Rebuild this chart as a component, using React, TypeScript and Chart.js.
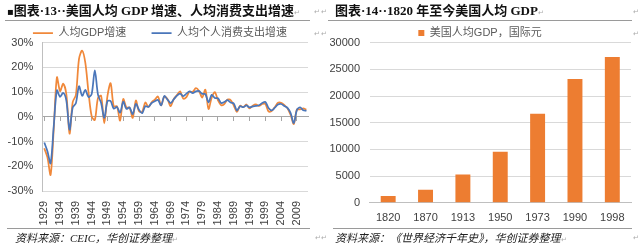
import React, { useEffect, useRef } from 'react';
import { Chart, registerables } from 'chart.js';

Chart.register(...registerables);

// ---------- Left chart data (per-capita nominal growth, %) ----------
const years = [
  '1929', '1930', '1931', '1932', '1933', '1934', '1935', '1936', '1937', '1938',
  '1939', '1940', '1941', '1942', '1943', '1944', '1945', '1946', '1947', '1948',
  '1949', '1950', '1951', '1952', '1953', '1954', '1955', '1956', '1957', '1958',
  '1959', '1960', '1961', '1962', '1963', '1964', '1965', '1966', '1967', '1968',
  '1969', '1970', '1971', '1972', '1973', '1974', '1975', '1976', '1977', '1978',
  '1979', '1980', '1981', '1982', '1983', '1984', '1985', '1986', '1987', '1988',
  '1989', '1990', '1991', '1992', '1993', '1994', '1995', '1996', '1997', '1998',
  '1999', '2000', '2001', '2002', '2003', '2004', '2005', '2006', '2007', '2008',
  '2009', '2010', '2011', '2012',
];

const gdpGrowth = [
  -12.7, -16.4, -23.5, -4.8, 16.0, 10.4, 13.4, 9.0, -6.8, 6.0,
  8.8, 23.5, 26.8, 21.8, 10.0, 0.3, -1.3, 7.6, 8.5, -2.6,
  8.4, 13.6, 4.2, 4.3, -1.5, 7.2, 3.8, 3.7, -0.4, 6.6,
  2.2, 2.1, 5.8, 4.0, 5.9, 7.0, 8.2, 4.6, 8.2, 7.2,
  4.3, 7.2, 8.8, 10.3, 7.4, 8.0, 10.2, 10.1, 11.6, 10.5,
  7.8, 11.0, 3.2, 7.8, 10.0, 6.7, 4.7, 5.2, 7.0, 6.8,
  4.6, 2.0, 4.5, 3.9, 5.0, 3.4, 4.5, 5.0, 4.4, 5.2,
  5.2, 2.2, 2.4, 3.9, 5.7, 5.7, 4.8, 3.5, 0.8, -2.9,
  3.0, 3.0, 3.4, 2.9,
];

const pceGrowth = [
  -10.4, -13.9, -18.8, -3.7, 10.7, 8.1, 9.7, 6.5, -5.2, 3.8,
  5.5, 12.4, 8.5, 10.9, 8.0, 9.2, 18.8, 9.0, 5.6, -0.4,
  6.3, 6.4, 3.3, 4.0, 1.7, 6.1, 3.2, 3.8, 1.1, 5.2,
  2.8, 1.5, 4.3, 4.0, 5.6, 6.3, 6.8, 4.7, 8.4, 7.0,
  5.6, 7.1, 8.6, 9.4, 8.4, 9.4, 10.3, 9.6, 10.3, 10.4,
  9.3, 9.2, 5.9, 8.9, 7.6, 7.5, 5.6, 6.0, 6.8, 5.8,
  5.4, 2.5, 4.3, 3.9, 4.6, 3.8, 4.2, 4.4, 4.7, 5.6,
  6.0, 3.6, 2.6, 3.7, 5.0, 5.2, 4.4, 3.6, 1.5, -2.5,
  2.8, 3.8, 2.7, 2.4,
];

const lineSeriesNames = ['人均GDP增速', '人均个人消费支出增速'];

// ---------- Right chart data ----------
const barYears = ['1820', '1870', '1913', '1950', '1973', '1990', '1998'];
const gdpPerCapita = [1257, 2445, 5301, 9561, 16689, 23201, 27331];
const barSeriesName = '美国人均GDP，国际元';

const ORANGE = '#ED7D31';
const ORANGE_LINE = '#F0883A';
const BLUE = '#4A76BA';
const TICK = '#404040';
const GRID = '#d9d9d9';
const FONT = '"Liberation Sans", "Noto Sans CJK SC", sans-serif';

function LineChart() {
  const ref = useRef<HTMLCanvasElement>(null);
  useEffect(() => {
    const chart = new Chart(ref.current!, {
      type: 'line',
      data: {
        labels: years,
        datasets: [
          {
            label: lineSeriesNames[0] + '     ',
            data: gdpGrowth,
            borderColor: ORANGE_LINE,
            backgroundColor: ORANGE_LINE,
            borderWidth: 1.75,
            pointRadius: 0,
            tension: 0.3,
            order: 1,
          },
          {
            label: lineSeriesNames[1],
            data: pceGrowth,
            borderColor: BLUE,
            backgroundColor: BLUE,
            borderWidth: 1.75,
            pointRadius: 0,
            tension: 0.3,
            order: 0,
          },
        ],
      },
      options: {
        responsive: false,
        animation: false,
        layout: { padding: { top: 17.5, left: 0, right: 0, bottom: 0 } },
        plugins: {
          legend: {
            maxHeight: 25.2,
            labels: {
              usePointStyle: true,
              pointStyle: 'line',
              pointStyleWidth: 20,
              padding: 10,
              color: '#595959',
              font: { size: 11, family: FONT },
              sort: (a: any, b: any) => a.datasetIndex - b.datasetIndex,
            },
          },
          tooltip: { enabled: false },
        },
        scales: {
          x: {
            type: 'category',
            offset: true,
            grid: { display: false },
            border: { display: false },
            ticks: {
              autoSkip: false,
              minRotation: 90,
              maxRotation: 90,
              padding: 2,
              color: TICK,
              font: { size: 11, family: FONT },
              callback: function (this: any, v: any, i: number) {
                return i % 5 === 0 ? this.getLabelForValue(v) : '';
              },
            },
            afterFit: (s: any) => {
              s.height = 58;
              s.paddingRight = 12;
              s.paddingLeft = 0;
            },
          },
          x2: {
            type: 'category',
            position: { y: 0 },
            offset: true,
            grid: {
              drawOnChartArea: false,
              drawTicks: true,
              tickLength: 4,
              color: (ctx: any) => (ctx.index % 5 === 0 ? '#a6a6a6' : 'rgba(0,0,0,0)'),
            },
            ticks: { display: false, autoSkip: false },
            border: { display: true, color: '#a6a6a6' },
            afterFit: (s: any) => {
              s.height = 0;
              s.paddingRight = 0;
              s.paddingLeft = 0;
            },
          },
          y: {
            min: -30,
            max: 30,
            ticks: {
              stepSize: 10,
              padding: 9.4,
              color: TICK,
              font: { size: 11, family: FONT },
              callback: (v: any) => v + '%',
            },
            grid: { color: GRID, drawTicks: false },
            border: { display: true, color: '#bfbfbf' },
            afterFit: (s: any) => {
              s.width = 42.7;
            },
          },
        },
      },
    } as any);
    return () => chart.destroy();
  }, []);
  return <canvas ref={ref} width={320} height={249} style={{ position: 'absolute', left: 0, top: 0 }} />;
}

function BarChart() {
  const ref = useRef<HTMLCanvasElement>(null);
  useEffect(() => {
    const chart = new Chart(ref.current!, {
      type: 'bar',
      data: {
        labels: barYears,
        datasets: [
          {
            label: barSeriesName,
            data: gdpPerCapita,
            backgroundColor: ORANGE,
            borderWidth: 0,
            barPercentage: 0.4,
            categoryPercentage: 1,
          },
        ],
      },
      options: {
        responsive: false,
        animation: false,
        layout: { padding: { top: 17.5, left: 0, right: 0, bottom: 0 } },
        plugins: {
          legend: {
            maxHeight: 25.2,
            labels: {
              boxWidth: 6,
              boxHeight: 6,
              padding: 10,
              color: '#595959',
              font: { size: 11, family: FONT },
            },
          },
          tooltip: { enabled: false },
        },
        scales: {
          x: {
            grid: { display: false },
            border: { display: true, color: '#bfbfbf' },
            ticks: { padding: 1, color: TICK, font: { size: 11, family: FONT } },
            afterFit: (s: any) => {
              s.height = 46.3;
              s.paddingRight = 9;
              s.paddingLeft = 0;
            },
          },
          y: {
            min: 0,
            max: 30000,
            ticks: {
              stepSize: 5000,
              padding: 9.5,
              color: TICK,
              font: { size: 11, family: FONT },
              callback: (v: any) => String(v),
            },
            grid: { color: GRID, drawTicks: false },
            border: { display: false },
            afterFit: (s: any) => {
              s.width = 49.5;
            },
          },
        },
      },
    } as any);
    return () => chart.destroy();
  }, []);
  return <canvas ref={ref} width={320} height={249} style={{ position: 'absolute', left: 0, top: 0 }} />;
}

const titleStyle: React.CSSProperties = {
  position: 'absolute',
  top: 3,
  fontFamily: '"Liberation Serif", "Noto Sans CJK SC", serif',
  fontWeight: 'bold',
  fontSize: 13,
  lineHeight: '16px',
  color: '#111',
  whiteSpace: 'nowrap',
};
const sourceStyle: React.CSSProperties = {
  position: 'absolute',
  top: 231,
  fontFamily: '"Liberation Serif", "Noto Sans CJK SC", serif',
  fontStyle: 'italic',
  fontSize: 11,
  lineHeight: '14px',
  color: '#222',
  whiteSpace: 'nowrap',
};
const markStyle: React.CSSProperties = {
  position: 'absolute',
  fontFamily: '"DejaVu Sans", sans-serif',
  fontSize: 7,
  lineHeight: '8px',
  color: '#aaa',
};
const ruleStyle = (left: number, width: number, top: number): React.CSSProperties => ({
  position: 'absolute',
  left,
  width,
  top,
  height: 1,
  background: '#9a9a9a',
});

export default function App() {
  return (
    <div
      style={{
        position: 'fixed',
        left: 0,
        top: 0,
        width: 640,
        height: 249,
        background: '#fff',
        overflow: 'hidden',
      }}
    >
      {/* Left panel */}
      <div style={{ position: 'absolute', left: 0, top: 0, width: 320, height: 249 }}>
        <LineChart />
        <div style={{ ...titleStyle, left: 7 }}>
          <span style={{ fontFamily: '"DejaVu Sans", sans-serif', fontSize: 10 }}>▪</span>
          图表·13··美国人均 GDP 增速、人均消费支出增速
          <span style={{ color: '#aaa', fontSize: 7, fontWeight: 'normal' }}>↵</span>
        </div>
        <div style={ruleStyle(5, 305, 20)} />
        <div style={ruleStyle(7, 303, 228)} />
        <div style={{ ...sourceStyle, left: 15 }}>
          资料来源：CEIC，华创证券整理
          <span style={{ color: '#aaa', fontSize: 7, fontStyle: 'normal' }}>↵</span>
        </div>
        <div style={{ ...markStyle, left: 314, top: 8 }}>↵</div>
        <div style={{ ...markStyle, left: 314, top: 30 }}>↵</div>
        <div style={{ ...markStyle, left: 315, top: 234 }}>↵</div>
      </div>
      {/* Right panel */}
      <div style={{ position: 'absolute', left: 320, top: 0, width: 320, height: 249 }}>
        <BarChart />
        <div style={{ ...titleStyle, left: 15 }}>
          图表·14··1820 年至今美国人均 GDP
          <span style={{ color: '#aaa', fontSize: 7, fontWeight: 'normal' }}>↵</span>
        </div>
        <div style={ruleStyle(8, 304, 20)} />
        <div style={ruleStyle(13, 299, 228)} />
        <div style={{ ...sourceStyle, left: 15 }}>
          资料来源：《世界经济千年史》，华创证券整理
          <span style={{ color: '#aaa', fontSize: 7, fontStyle: 'normal' }}>↵</span>
        </div>
        <div style={{ ...markStyle, left: 1, top: 8 }}>↵</div>
        <div style={{ ...markStyle, left: 1, top: 30 }}>↵</div>
        <div style={{ ...markStyle, left: 1, top: 234 }}>↵</div>
        <div style={{ ...markStyle, left: 313, top: 8 }}>↵</div>
        <div style={{ ...markStyle, left: 313, top: 30 }}>↵</div>
        <div style={{ ...markStyle, left: 313, top: 234 }}>↵</div>
      </div>
    </div>
  );
}
